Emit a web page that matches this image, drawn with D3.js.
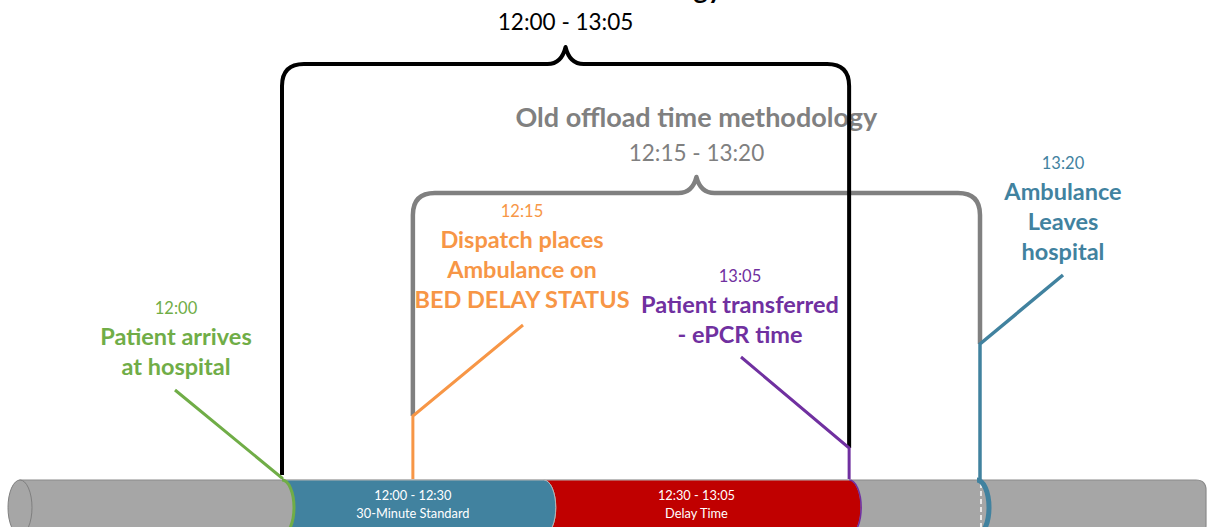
<!DOCTYPE html>
<html>
<head>
<meta charset="utf-8">
<script src="https://cdn.jsdelivr.net/npm/d3@7"></script>
<style>
  html, body { margin: 0; padding: 0; background: #fff; }
  svg { display: block; font-family: Lato, "Open Sans", sans-serif; }
</style>
</head>
<body>
<svg id="chart" width="1207" height="527"></svg>
<script>
// ---------------- DATA ----------------
const eventTimes  = ["12:00", "12:15", "13:05", "13:20"];
const eventTitles = [
  ["Patient arrives", "at hospital"],
  ["Dispatch places", "Ambulance on", "BED DELAY STATUS"],
  ["Patient transferred", "- ePCR time"],
  ["Ambulance", "Leaves", "hospital"]
];
const segmentStarts = ["12:00", "12:30"];
const segmentEnds   = ["12:30", "13:05"];
const segmentNames  = ["30-Minute Standard", "Delay Time"];

const bracketNames  = ["New offload methodology", "Old offload time methodology"];
const bracketStarts = ["12:00", "12:15"];
const bracketEnds   = ["13:05", "13:20"];

// ---------------- STYLE / LAYOUT ----------------
const eventColors   = ["#70ad47", "#f79646", "#7030a0", "#41829f"];
const segmentColors = ["#41829f", "#c00000"];
const bracketColors = ["#000000", "#808080"];
const labelLayout = [
  { cx: 176,  y: 314, lx: 175,  ly: 390, elbow: 478 },
  { cx: 522,  y: 217, lx: 523,  ly: 325, elbow: 416 },
  { cx: 740,  y: 282, lx: 741,  ly: 357, elbow: 448 },
  { cx: 1063, y: 169, lx: 1063, ly: 275, elbow: 344 }
];
const bracketLayout = [
  { top: 64,  peak: 47,  leftBottom: 475, rightBottom: 448, titleY: -1,  rangeY: 30 },
  { top: 193, peak: 177, leftBottom: 416, rightBottom: 344, titleY: 127, rangeY: 161 }
];

const cylTop = 480, cylBot = 535, cylLeft = 20, cylRight = 1206;
const ry = (cylBot - cylTop) / 2, cy = cylTop + ry, rx = 12;

const toMin = s => { const [h, m] = s.split(":").map(Number); return h * 60 + m; };
const x = d3.scaleLinear()
  .domain(d3.extent(eventTimes, toMin))
  .range([282, 980]);

const svg = d3.select("#chart");

// ---------------- CYLINDER ----------------
const cr = 10;
svg.append("path")
  .attr("d", `M${cylLeft},${cylTop} L${cylRight - cr},${cylTop} Q${cylRight},${cylTop} ${cylRight},${cylTop + cr}
              L${cylRight},${cylBot - cr} Q${cylRight},${cylBot} ${cylRight - cr},${cylBot} L${cylLeft},${cylBot} Z`)
  .attr("fill", "#a6a6a6").attr("stroke", "#8a8a8a").attr("stroke-width", 1.2);
svg.append("ellipse")
  .attr("cx", cylLeft).attr("cy", cy).attr("rx", rx).attr("ry", ry)
  .attr("fill", "#a6a6a6").attr("stroke", "#7f7f7f").attr("stroke-width", 1);

// segments (region between two right half-ellipses)
const segPath = (x0, x1) =>
  `M${x0},${cylTop} L${x1},${cylTop} A${rx},${ry} 0 0 1 ${x1},${cylBot} L${x0},${cylBot} A${rx},${ry} 0 0 0 ${x0},${cylTop} Z`;

const segIdx = d3.range(segmentStarts.length).reverse();
svg.selectAll("path.seg").data(segIdx).join("path")
  .attr("class", "seg")
  .attr("d", i => segPath(x(toMin(segmentStarts[i])), x(toMin(segmentEnds[i]))))
  .attr("fill", i => segmentColors[i])
  .attr("stroke", "#b4b4b4").attr("stroke-width", 1);

const segText = svg.selectAll("g.segtext").data(d3.range(segmentStarts.length)).join("g")
  .attr("class", "segtext")
  .attr("transform", i => `translate(${(x(toMin(segmentStarts[i])) + x(toMin(segmentEnds[i]))) / 2},0)`);
segText.append("text").attr("y", 500).attr("text-anchor", "middle")
  .attr("fill", "#fff").attr("font-size", 12.8)
  .text(i => `${segmentStarts[i]} - ${segmentEnds[i]}`);
segText.append("text").attr("y", 518).attr("text-anchor", "middle")
  .attr("fill", "#fff").attr("font-size", 12.8)
  .text(i => segmentNames[i]);

// event marker arcs
const arcPath = (xc) => `M${xc},${cylTop} A${rx},${ry} 0 0 1 ${xc},${cylBot}`;
svg.append("line")
  .attr("x1", x(toMin(eventTimes[3])) + 1).attr("x2", x(toMin(eventTimes[3])) + 1)
  .attr("y1", cylTop + 3).attr("y2", cylBot)
  .attr("stroke", "#fff").attr("stroke-width", 1.5).attr("stroke-dasharray", "5,3");
const arcWidths = [3, 0, 1.6, 5];
svg.selectAll("path.evarc").data([0, 2, 3]).join("path")
  .attr("class", "evarc")
  .attr("d", i => arcPath(x(toMin(eventTimes[i])) - (i === 3 ? 3 : 0)))
  .attr("fill", "none")
  .attr("stroke", i => eventColors[i])
  .attr("stroke-width", i => arcWidths[i]);

// ---------------- BRACKETS ----------------
function bracketPath(x0, x1, b) {
  const r = 22, pm = (x0 + x1) / 2, w = 18;
  return `M${x0},${b.leftBottom} L${x0},${b.top + r} Q${x0},${b.top} ${x0 + r},${b.top}
          L${pm - w},${b.top} Q${pm - 4},${b.top} ${pm},${b.peak} Q${pm + 4},${b.top} ${pm + w},${b.top}
          L${x1 - r},${b.top} Q${x1},${b.top} ${x1},${b.top + r} L${x1},${b.rightBottom}`;
}
const bIdx = [1, 0];
const bg = svg.selectAll("g.bracket").data(bIdx).join("g").attr("class", "bracket");
bg.append("path")
  .attr("d", i => bracketPath(x(toMin(bracketStarts[i])), x(toMin(bracketEnds[i])), bracketLayout[i]))
  .attr("fill", "none").attr("stroke", i => bracketColors[i])
  .attr("stroke-width", i => i === 0 ? 4 : 4.5).attr("stroke-linejoin", "round");
bg.insert("text", "path")
  .attr("x", i => (x(toMin(bracketStarts[i])) + x(toMin(bracketEnds[i]))) / 2)
  .attr("y", i => bracketLayout[i].titleY)
  .attr("text-anchor", "middle").attr("font-weight", "bold").attr("font-size", 27)
  .attr("fill", i => bracketColors[i])
  .text(i => bracketNames[i]);
bg.append("text")
  .attr("x", i => (x(toMin(bracketStarts[i])) + x(toMin(bracketEnds[i]))) / 2)
  .attr("y", i => bracketLayout[i].rangeY)
  .attr("text-anchor", "middle").attr("font-size", 22.5)
  .attr("fill", i => bracketColors[i])
  .text(i => `${bracketStarts[i]} - ${bracketEnds[i]}`);

// ---------------- EVENT LABELS ----------------
const ev = svg.selectAll("g.event").data(d3.range(eventTimes.length)).join("g").attr("class", "event");
ev.append("path")
  .attr("d", i => {
    const L = labelLayout[i], xe = x(toMin(eventTimes[i]));
    return `M${L.lx},${L.ly} L${xe},${L.elbow} L${xe},${cylTop - 1}`;
  })
  .attr("fill", "none").attr("stroke", i => eventColors[i])
  .attr("stroke-width", i => i === 3 ? 3.5 : 3).attr("stroke-linejoin", "miter");
ev.append("text")
  .attr("x", i => labelLayout[i].cx).attr("y", i => labelLayout[i].y)
  .attr("text-anchor", "middle").attr("font-size", 16.5)
  .attr("fill", i => eventColors[i])
  .text(i => eventTimes[i]);
ev.each(function (i) {
  const L = labelLayout[i];
  d3.select(this).selectAll("text.title").data(eventTitles[i]).join("text")
    .attr("class", "title")
    .attr("x", L.cx).attr("y", (d, k) => L.y + 31 + k * 30)
    .attr("text-anchor", "middle").attr("font-weight", "bold").attr("font-size", 23.5)
    .attr("fill", eventColors[i])
    .text(d => d);
});
</script>
</body>
</html>
